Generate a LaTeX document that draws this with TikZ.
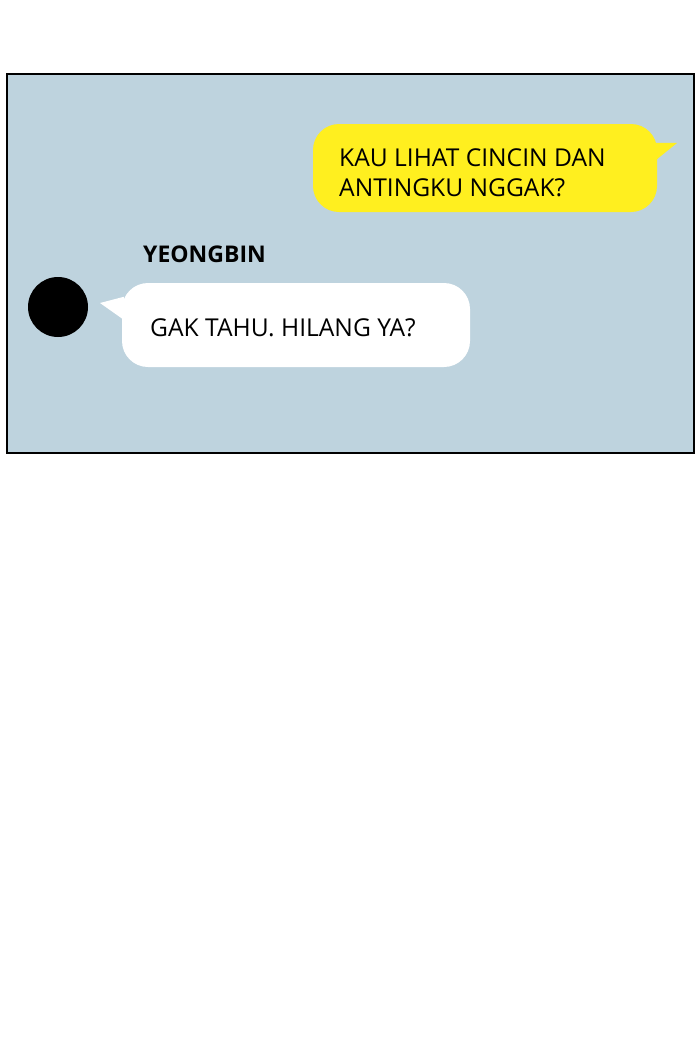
\documentclass[tikz,border=0pt]{standalone}
\usepackage{fontspec}
\setmainfont{Open Sans}
\usetikzlibrary{positioning, calc}
\definecolor{panelblue}{HTML}{BED3DE}
\definecolor{chatyellow}{HTML}{FFEF1F}
\tikzset{
  bubble/.style={rounded corners=26pt, inner sep=0pt, draw=none},
  chattext/.style={anchor=base west, inner sep=0pt, font=\fontsize{24.6}{30}\selectfont, align=left}
}
\begin{document}
\begin{tikzpicture}[x=1pt,y=-1pt]
	\useasboundingbox (0,0) rectangle (700,1044);
	\fill[white] (0,0) rectangle (700,1044);

	% panel
	\node[draw=black, line width=2pt, fill=panelblue, minimum width=687pt, minimum height=379pt, inner sep=0pt] (panel) at (350.5,263.5) {};

	% yellow bubble, right side
	\node[bubble, fill=chatyellow, minimum width=344pt, minimum height=88pt] (ask) at (485,168) {};
	\coordinate (asktip) at (677,143);
	\fill[chatyellow] ($(ask.north east)+(-3,19)$) -- (asktip) -- ($(ask.north east)+(-1,36)$) -- cycle;
	\node[chattext] (asktext) at (339,196) {KAU LIHAT CINCIN DAN\\ANTINGKU NGGAK?};

	% other speaker
	\fill[black] (58,307) circle (30);
	\node[anchor=base west, inner sep=0pt, font=\fontsize{23}{27}\selectfont\bfseries] (name) at (143,262) {YEONGBIN};

	% white bubble
	\node[bubble, fill=white, minimum width=348pt, minimum height=84pt] (reply) at (296,325) {};
	\coordinate (replytip) at (100,303);
	\fill[white] ($(reply.north west)+(2,14)$) -- (replytip) -- ($(reply.north west)+(2,37)$) -- cycle;
	\node[chattext] (replytext) at (150,336) {GAK TAHU. HILANG YA?};
\end{tikzpicture}
\end{document}
